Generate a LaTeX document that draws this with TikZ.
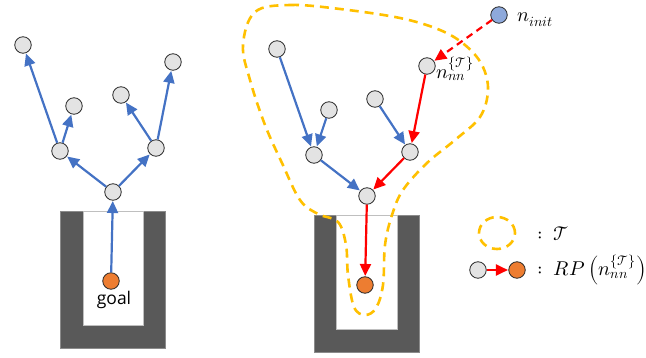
\documentclass[tikz,border=0pt]{standalone}
\usepackage{fontspec}
\usepackage{unicode-math}
\setmainfont{Open Sans}
\setmathfont{Latin Modern Math}
\usetikzlibrary{arrows.meta}
\definecolor{ndgrey}{HTML}{E3E3E3}
\definecolor{orangeC}{HTML}{ED7D31}
\definecolor{blueC}{HTML}{4472C4}
\definecolor{redC}{HTML}{FF0000}
\definecolor{yelC}{HTML}{FFC000}
\definecolor{wallC}{HTML}{595959}
\definecolor{initC}{HTML}{8EA9DB}
\tikzset{
  nd/.style={circle, draw=black!85, line width=0.8pt, fill=ndgrey, minimum size=16.5pt, inner sep=0pt},
  gl/.style={nd, fill=orangeC},
  ini/.style={nd, fill=initC},
  barr/.style={draw=blueC, line width=2.2pt, -{Triangle[length=12pt,width=11pt]}, shorten >=0.4pt},
  rarr/.style={draw=redC, line width=2.2pt, -{Triangle[length=12pt,width=11pt]}, shorten >=0.4pt},
  rdash/.style={rarr, dash pattern=on 7pt off 5pt},
  blob/.style={draw=yelC, line width=2.6pt, dash pattern=on 9pt off 6pt},
  wall/.style={fill=wallC, draw=wallC!70},
  hole/.style={fill=white, draw=black!25, line width=0.6pt},
  mlab/.style={inner sep=0pt, font=\fontsize{20}{24}\selectfont}
}
\begin{document}
\begin{tikzpicture}[x=1pt, y=-1pt]
\useasboundingbox (0,0) rectangle (646,358);
% ---------- left scene ----------
\fill[wall] (60,211) rectangle (165,348);
\draw[hole] (83,211) rectangle (143,325);
\node[gl] (g1) at (111,281) {};
\node[inner sep=0pt, font=\fontsize{17.5}{20}\selectfont] (goal) at (114,300) {goal};
\node[nd] (a) at (113,192) {};
\node[nd] (b) at (60,151) {};
\node[nd] (c) at (156,148) {};
\node[nd] (b1) at (23,45) {};
\node[nd] (b2) at (74,106) {};
\node[nd] (c1) at (121,95) {};
\node[nd] (c2) at (173,62) {};
\draw[barr] (g1) -- (a);
\draw[barr] (a) -- (b);
\draw[barr] (a) -- (c);
\draw[barr] (b) -- (b1);
\draw[barr] (b) -- (b2);
\draw[barr] (c) -- (c1);
\draw[barr] (c) -- (c2);
% ---------- right scene ----------
\fill[wall] (314,215) rectangle (419,352);
\draw[hole] (336,215) rectangle (397,329);
\draw[blob] plot[smooth cycle, tension=0.6] coordinates {
 (255,12) (290,5) (340,9) (400,18) (440,30) (465,45) (482,65) (488,90)
 (480,117) (455,140) (427,163) (403,190) (392,215) (385,245) (383,285)
 (376,308) (365,315) (354,307) (348,275) (346,245) (338,222) (318,214)
 (300,200) (282,163) (265,125) (250,80) (243,45)};
\node[gl] (g2) at (365,285) {};
\node[nd] (r) at (367,196) {};
\node[nd] (l) at (314,155) {};
\node[nd] (m) at (410,152) {};
\node[nd] (l1) at (277,49) {};
\node[nd] (l2) at (329,110) {};
\node[nd] (m1) at (375,99) {};
\node[nd] (nn) at (427,66) {};
\node[ini] (init) at (499,15) {};
\node[mlab, anchor=west] (initlab) at (517,20) {$n_{init}$};
\node[mlab, anchor=north west] (nnlab) at (436,57) {$n_{nn}^{\{\mathcal{T}\}}$};
\draw[barr] (l1) -- (l);
\draw[barr] (l2) -- (l);
\draw[barr] (m1) -- (m);
\draw[barr] (l) -- (r);
\draw[rarr] (nn) -- (m);
\draw[rarr] (m) -- (r);
\draw[rarr] (r) -- (g2);
\draw[rdash] (init) -- (nn);
% ---------- legend ----------
\draw[yelC, line width=2.6pt, dash pattern=on 9pt off 6pt] (497,233) ellipse [x radius=18pt, y radius=16pt];
\node[mlab, anchor=west] (leg1) at (537,234) {$:\;\mathcal{T}$};
\node[nd] (lg) at (478,270) {};
\node[gl] (lo) at (517,270) {};
\draw[rarr] (lg) -- (lo);
\node[mlab, anchor=west] (leg2) at (537,270) {$:\;RP\left(n_{nn}^{\{\mathcal{T}\}}\right)$};
\end{tikzpicture}
\end{document}
